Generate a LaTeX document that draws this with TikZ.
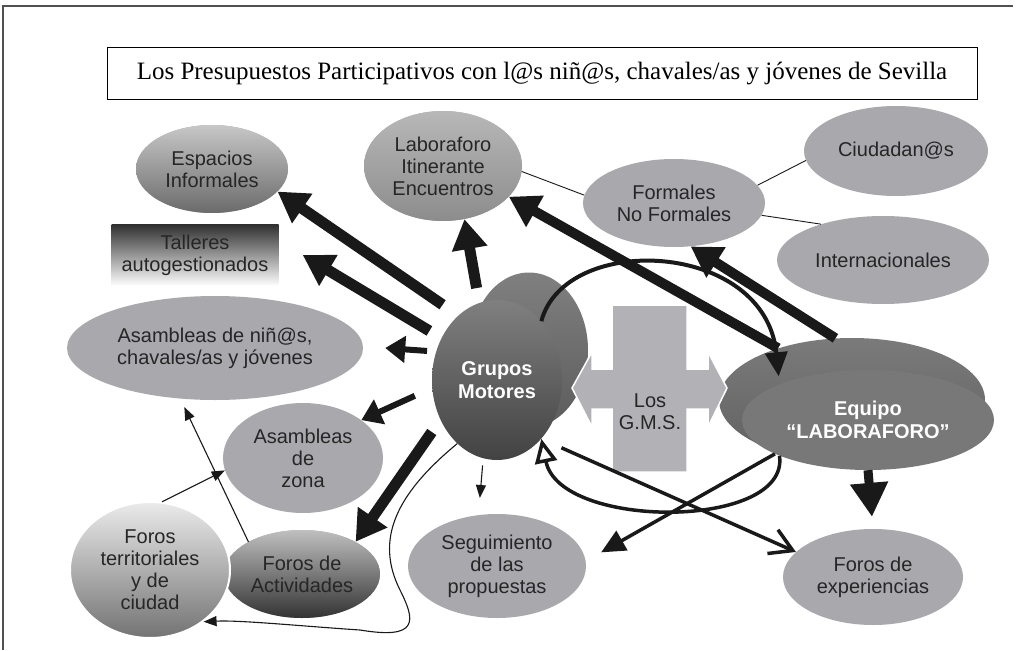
\documentclass[tikz,border=0pt]{standalone}
\usepackage{fontspec}
\setmainfont{Liberation Sans}
\newfontfamily\serifa{Liberation Serif}
\usetikzlibrary{arrows.meta,shapes.geometric}
\definecolor{burbuja}{HTML}{A9A9AD}
\definecolor{letra}{HTML}{262626}
\definecolor{cruz}{HTML}{B2B2B6}
\definecolor{marco}{HTML}{505050}
\tikzset{
  burb/.style={ellipse,fill=burbuja,text=letra,align=center,inner sep=0pt,font=\fontsize{20}{22}\selectfont},
  oscura/.style={ellipse,text=white,align=center,inner sep=0pt,font=\bfseries\fontsize{20}{23}\selectfont},
  gorda/.style={line width=11pt,-{Triangle[length=30pt,width=34pt]}},
  media/.style={line width=6pt,-{Triangle[length=20pt,width=26pt]}},
  fina/.style={line width=1.1pt,-{Triangle[length=13pt,width=10pt]}},
  curva/.style={line width=3.5pt},
  enlace/.style={line width=0.9pt},
}
\begin{document}
\begin{tikzpicture}[x=1pt,y=-1pt]
  \useasboundingbox (0,0) rectangle (1016,650);
  \draw[marco,line width=2pt] (3,650) -- (3,6) -- (1013,6);
  \node[draw,line width=1pt,minimum width=870,minimum height=52,font=\serifa\fontsize{25}{27}\selectfont] (titulo) at (542,74)
    {Los Presupuestos Participativos con l@s niñ@s, chavales/as y jóvenes de Sevilla};
  \node[burb,minimum width=152,minimum height=88,top color=black!22,bottom color=black!58] (espacios) at (212,169) {Espacios\\Informales};
  \node[burb,minimum width=158,minimum height=110,top color=black!28,bottom color=black!45] (laboraforo) at (443,166) {Laboraforo\\Itinerante\\Encuentros};
  \node[burb,minimum width=182,minimum height=88] (formales) at (674,203) {Formales\\No Formales};
  \node[burb,minimum width=184,minimum height=90] (ciudadanos) at (896,151) {Ciudadan@s};
  \node[burb,minimum width=212,minimum height=88] (internacionales) at (883,260) {Internacionales};
  \node[rectangle,text=letra,align=center,inner sep=0pt,font=\fontsize{20}{22}\selectfont,minimum width=167,minimum height=62,
    top color=black!82,bottom color=white] (talleres) at (195,255) {Talleres\\autogestionados};
  \node[burb,minimum width=296,minimum height=104] (asambleas) at (215,348) {Asambleas de niñ@s,\\chavales/as y jóvenes};
  \node[burb,minimum width=160,minimum height=110] (zona) at (303,458) {Asambleas\\de\\zona};
  \node[burb,minimum width=156,minimum height=88,top color=black!25,bottom color=black!80] (actividades) at (302,574) {Foros de\\Actividades};
  \node[burb,draw=white,line width=2pt,minimum width=160,minimum height=136,top color=black!8,bottom color=black!55] (territoriales) at (150,570)
    {Foros\\territoriales\\y de\\ciudad};
  \node[burb,minimum width=178,minimum height=104] (seguimiento) at (497,566) {Seguimiento\\de las\\propuestas};
  \node[burb,minimum width=180,minimum height=96] (experiencias) at (873,577) {Foros de\\experiencias};
  \node[ellipse,minimum width=118,minimum height=155,top color=black!50,bottom color=black!64] (gruposfondo) at (529,350) {};
  \node[oscura,minimum width=130,minimum height=160,top color=black!50,bottom color=black!74] (grupos) at (497,380) {Grupos\\Motores};
  \node[ellipse,minimum width=266,minimum height=124,top color=black!52,bottom color=black!62] (equipofondo) at (852,400) {};
  \node[oscura,minimum width=252,minimum height=100,fill=black!53] (equipo) at (868,420) {Equipo\\“LABORAFORO”};
  \filldraw[fill=cruz,draw=white,line width=1.5pt] (572,388) -- (592,352) -- (592,369) -- (612,369) -- (612,305) -- (687,305) -- (687,369)
    -- (708,369) -- (708,352) -- (727,388) -- (708,427) -- (708,409) -- (687,409) -- (687,472) -- (612,472) -- (612,409)
    -- (592,409) -- (592,427) -- cycle;
  \node[text=letra,align=center,font=\fontsize{20}{22}\selectfont] (gms) at (650,412) {Los\\G.M.S.};
  \begin{scope}[black!90]
    \draw[enlace] (laboraforo.-4) -- (formales.175);
    \draw[enlace] (formales.12) -- (ciudadanos.186);
    \draw[enlace] (formales.-8) -- (internacionales.150);
    \draw[gorda,shorten <=19pt] (grupos.121) -- (espacios.-19);
    \draw[gorda,shorten <=14pt] (grupos.143) -- ([xshift=24pt]talleres.east);
    \draw[media,shorten <=9pt] (grupos.155) -- ([xshift=22pt]asambleas.east);
    \draw[gorda,shorten <=15pt] (grupos.103) -- (laboraforo.-68);
    \draw[media,shorten <=19pt] (grupos.-173) -- (zona.33);
    \draw[gorda,shorten <=15pt] (grupos.-145) -- (actividades.31);
    \draw[fina,shorten <=7pt,shorten >=17pt] (grupos.-100) -- (seguimiento.110);
    \draw[fina] (grupos.-122) .. controls (395,495) and (375,540) .. (400,590)
      .. controls (415,620) and (420,640) .. (360,630) .. controls (300,626) and (240,620) .. (territoriales.-44);
    \draw[fina] (actividades.149) -- ([yshift=-8pt]asambleas.-121);
    \draw[fina] (territoriales.80) -- (zona.-171);
    \draw[gorda,line width=10pt] (equipofondo.145) -- (laboraforo.-25);
    \draw[gorda,line width=10pt] (equipofondo.105) -- (formales.-69);
    \draw[line width=4pt,shorten >=8pt,-{Triangle[length=24pt,width=22pt]}] (grupos.53) .. controls (565,232) and (765,240) .. (equipo.158);
    \draw[curva,-{Triangle[open,length=24pt,width=22pt]}] (equipo.-158) .. controls (790,530) and (560,530) .. (grupos.-53);
    \draw[curva,shorten <=22pt,-{Straight Barb[length=22pt,width=26pt]}] (grupos.-53) -- (experiencias.162);
    \draw[curva,-{Triangle[length=24pt,width=22pt]}] (equipo.-160) -- ([xshift=18pt]seguimiento.9);
    \draw[line width=9pt,shorten >=12pt,-{Triangle[length=34pt,width=36pt]}] (equipo.south) -- (experiencias.north);
  \end{scope}
\end{tikzpicture}
\end{document}
